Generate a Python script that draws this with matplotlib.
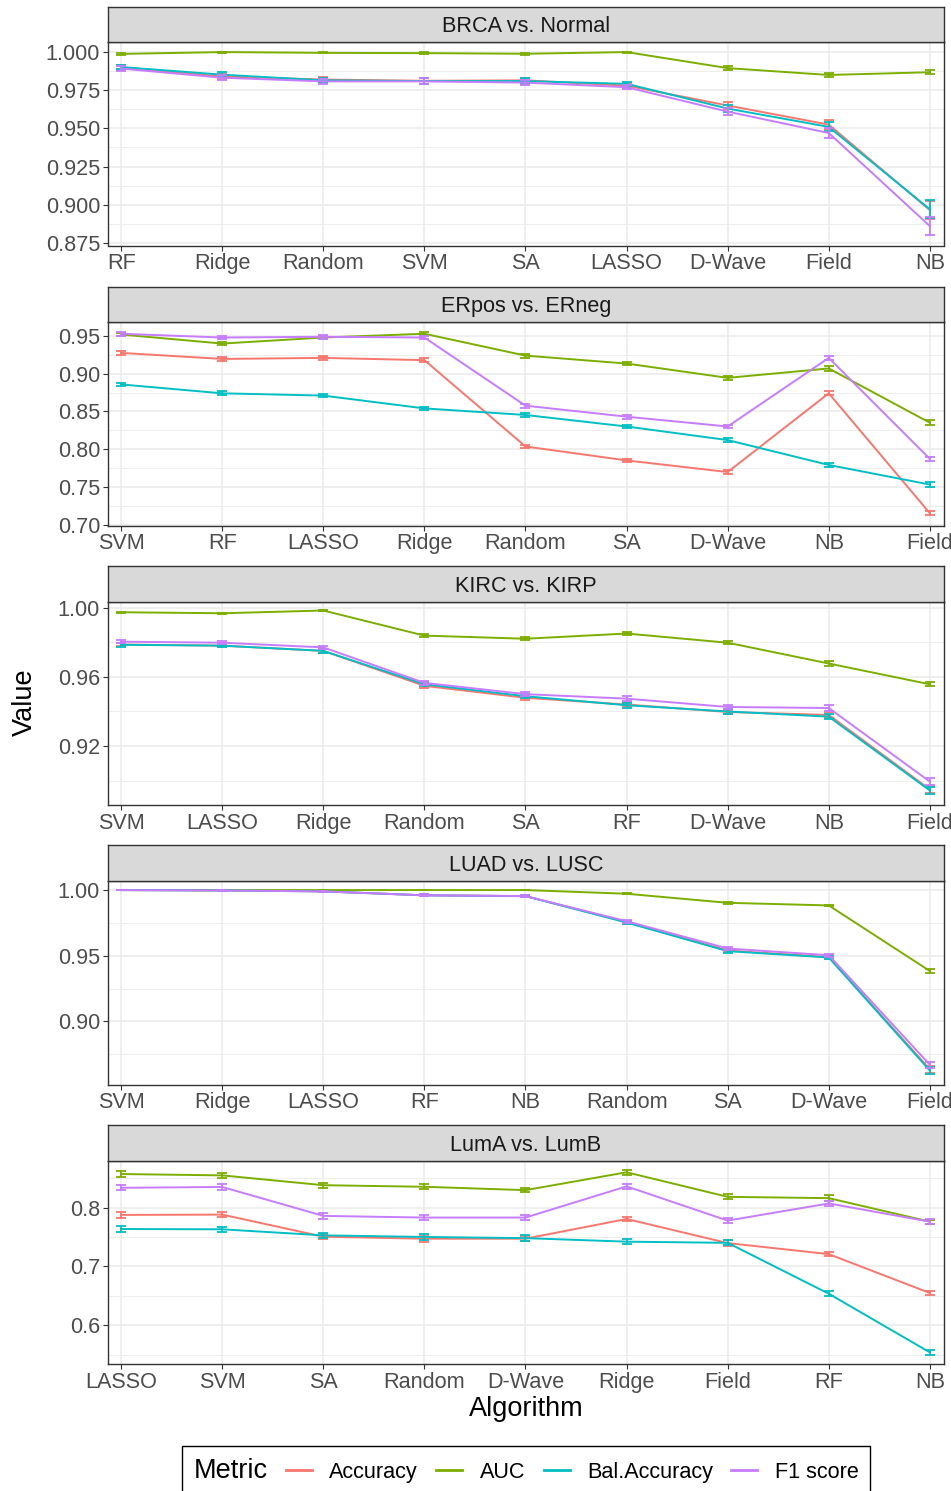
import matplotlib
matplotlib.use("Agg")
import matplotlib.pyplot as plt
from matplotlib.lines import Line2D
from matplotlib.ticker import FormatStrFormatter

plt.rcParams['font.family'] = ['Liberation Sans', 'DejaVu Sans']

metrics = ["Accuracy", "AUC", "Bal.Accuracy", "F1 score"]
colors = ["#F8766D", "#7CAE00", "#00BFC4", "#C77CFF"]

## BRCA vs. Normal
brca_algo = ["RF", "Ridge", "Random", "SVM", "SA", "LASSO", "D-Wave", "Field", "NB"]
brca_acc = [0.9900, 0.9840, 0.9820, 0.9812, 0.9815, 0.9780, 0.9650, 0.9525, 0.8965]
brca_auc = [0.9988, 1.0000, 0.9995, 0.9993, 0.9989, 1.0000, 0.9895, 0.9850, 0.9868]
brca_bal = [0.9902, 0.9852, 0.9815, 0.9810, 0.9810, 0.9792, 0.9630, 0.9510, 0.8970]
brca_f1 = [0.9892, 0.9832, 0.9808, 0.9808, 0.9800, 0.9770, 0.9610, 0.9470, 0.8860]
brca_err = [0.0015, 0.0015, 0.0018, 0.0020, 0.0018, 0.0015, 0.0025, 0.0030, 0.0060]
brca_auc_err = [0.0006, 0.0003, 0.0004, 0.0005, 0.0006, 0.0003, 0.0014, 0.0016, 0.0012]

## ERpos vs. ERneg
er_algo = ["SVM", "RF", "LASSO", "Ridge", "Random", "SA", "D-Wave", "NB", "Field"]
er_acc = [0.9276, 0.9196, 0.9210, 0.9180, 0.8035, 0.7850, 0.7696, 0.8740, 0.7150]
er_auc = [0.9520, 0.9400, 0.9480, 0.9530, 0.9240, 0.9135, 0.8945, 0.9070, 0.8350]
er_bal = [0.8858, 0.8740, 0.8710, 0.8540, 0.8453, 0.8300, 0.8120, 0.7790, 0.7530]
er_f1 = [0.9530, 0.9480, 0.9490, 0.9480, 0.8576, 0.8430, 0.8300, 0.9210, 0.7870]
er_err = [0.0025, 0.0025, 0.0025, 0.0022, 0.0025, 0.0025, 0.0025, 0.0025, 0.0030]
er_auc_err = [0.0022, 0.0025, 0.0022, 0.0022, 0.0025, 0.0025, 0.0030, 0.0028, 0.0035]

## KIRC vs. KIRP
kirc_algo = ["SVM", "LASSO", "Ridge", "Random", "SA", "RF", "D-Wave", "NB", "Field"]
kirc_acc = [0.9787, 0.9780, 0.9750, 0.9548, 0.9479, 0.9440, 0.9397, 0.9380, 0.8950]
kirc_auc = [0.9973, 0.9967, 0.9983, 0.9838, 0.9820, 0.9850, 0.9797, 0.9677, 0.9557]
kirc_bal = [0.9785, 0.9780, 0.9750, 0.9557, 0.9488, 0.9436, 0.9400, 0.9370, 0.8944]
kirc_f1 = [0.9803, 0.9797, 0.9770, 0.9565, 0.9500, 0.9474, 0.9426, 0.9420, 0.8995]
kirc_err = [0.0010, 0.0010, 0.0010, 0.0012, 0.0012, 0.0015, 0.0012, 0.0015, 0.0020]
kirc_auc_err = [0.0004, 0.0004, 0.0003, 0.0008, 0.0008, 0.0008, 0.0008, 0.0012, 0.0012]

## LUAD vs. LUSC
luad_algo = ["SVM", "Ridge", "LASSO", "RF", "NB", "Random", "SA", "D-Wave", "Field"]
luad_acc = [1.0000, 0.9997, 0.9990, 0.9960, 0.9954, 0.9756, 0.9540, 0.9490, 0.8636]
luad_auc = [1.0000, 1.0000, 1.0000, 1.0000, 1.0000, 0.9972, 0.9903, 0.9883, 0.9384]
luad_bal = [1.0000, 0.9997, 0.9990, 0.9960, 0.9954, 0.9753, 0.9535, 0.9487, 0.8626]
luad_f1 = [1.0000, 0.9997, 0.9990, 0.9960, 0.9954, 0.9763, 0.9555, 0.9504, 0.8670]
luad_err = [0.0000, 0.0002, 0.0004, 0.0008, 0.0008, 0.0012, 0.0012, 0.0012, 0.0025]
luad_auc_err = [0.0000, 0.0000, 0.0001, 0.0001, 0.0001, 0.0004, 0.0006, 0.0006, 0.0015]

## LumA vs. LumB
lum_algo = ["LASSO", "SVM", "SA", "Random", "D-Wave", "Ridge", "Field", "RF", "NB"]
lum_acc = [0.7875, 0.7880, 0.7504, 0.7470, 0.7470, 0.7806, 0.7396, 0.7208, 0.6547]
lum_auc = [0.8570, 0.8547, 0.8380, 0.8353, 0.8296, 0.8600, 0.8182, 0.8160, 0.7760]
lum_bal = [0.7635, 0.7630, 0.7527, 0.7500, 0.7480, 0.7420, 0.7400, 0.6535, 0.5538]
lum_f1 = [0.8336, 0.8350, 0.7858, 0.7830, 0.7830, 0.8360, 0.7778, 0.8070, 0.7760]
lum_err = [0.0045, 0.0045, 0.0045, 0.0050, 0.0045, 0.0040, 0.0045, 0.0040, 0.0040]
lum_auc_err = [0.0045, 0.0045, 0.0045, 0.0045, 0.0040, 0.0040, 0.0045, 0.0045, 0.0035]

panels = [
    ("BRCA vs. Normal", brca_algo, [brca_acc, brca_auc, brca_bal, brca_f1], brca_err, brca_auc_err,
     (0.8733, 1.0066), [0.875, 0.900, 0.925, 0.950, 0.975, 1.000], [0.8875, 0.9125, 0.9375, 0.9625, 0.9875], "%.3f"),
    ("ERpos vs. ERneg", er_algo, [er_acc, er_auc, er_bal, er_f1], er_err, er_auc_err,
     (0.6987, 0.9686), [0.70, 0.75, 0.80, 0.85, 0.90, 0.95], [0.725, 0.775, 0.825, 0.875, 0.925], "%.2f"),
    ("KIRC vs. KIRP", kirc_algo, [kirc_acc, kirc_auc, kirc_bal, kirc_f1], kirc_err, kirc_auc_err,
     (0.886, 1.0035), [0.92, 0.96, 1.00], [0.90, 0.94, 0.98], "%.2f"),
    ("LUAD vs. LUSC", luad_algo, [luad_acc, luad_auc, luad_bal, luad_f1], luad_err, luad_auc_err,
     (0.852, 1.0069), [0.90, 0.95, 1.00], [0.875, 0.925, 0.975], "%.2f"),
    ("LumA vs. LumB", lum_algo, [lum_acc, lum_auc, lum_bal, lum_f1], lum_err, lum_auc_err,
     (0.534, 0.880), [0.6, 0.7, 0.8], [0.55, 0.65, 0.75, 0.85], "%.1f"),
]

W, H = 951, 1491
fig = plt.figure(figsize=(W / 100, H / 100), dpi=100)

tops = [42, 322, 601.5, 881, 1160.5]
ph = 203.5
sh = 35.5
left, width = 108, 836
txt = 15.6

for top, (title, algos, vals, err, auc_err, ylim, major, minor, fmt) in zip(tops, panels):
    ax = fig.add_axes([left / W, 1 - (top + ph) / H, width / W, ph / H])
    xs = list(range(len(algos)))
    for k in range(4):
        e = auc_err if k == 1 else err
        ax.plot(xs, vals[k], color=colors[k], lw=1.4, zorder=3 + k)
        ax.errorbar(xs, vals[k], yerr=e, color=colors[k], fmt='none', elinewidth=1.3,
                    capsize=3.6, capthick=1.3, zorder=3 + k)
    ax.set_xlim(-0.13, 8.14)
    ax.set_ylim(*ylim)
    ax.set_xticks(xs)
    ax.set_xticklabels(algos)
    ax.set_yticks(major)
    ax.set_yticks(minor, minor=True)
    ax.yaxis.set_major_formatter(FormatStrFormatter(fmt))
    ax.grid(True, which='major', color='#EBEBEB', lw=1.1, zorder=0)
    ax.grid(True, which='minor', axis='y', color='#EBEBEB', lw=0.6, zorder=0)
    ax.set_axisbelow(True)
    ax.tick_params(axis='both', which='major', labelsize=txt, labelcolor='#4D4D4D',
                   color='#333333', length=3.5, width=0.8, pad=2.2)
    ax.tick_params(axis='y', which='minor', length=0)
    for s in ax.spines.values():
        s.set_color('#333333')
        s.set_linewidth(1.0)

    st = fig.add_axes([left / W, 1 - top / H, width / W, sh / H])
    st.set_facecolor('#D9D9D9')
    st.set_xticks([])
    st.set_yticks([])
    for s in st.spines.values():
        s.set_color('#333333')
        s.set_linewidth(1.0)
    st.text(0.5, 0.5, title, ha='center', va='center_baseline', fontsize=txt, color='#1A1A1A',
            transform=st.transAxes)

fig.text(25 / W, 1 - 702 / H, "Value", rotation=90, ha='center', va='center', fontsize=19.5)
fig.text(526 / W, 1 - 1409 / H, "Algorithm", ha='center', va='center', fontsize=19.5)

handles = [Line2D([], [], color=c, lw=2.0) for c in colors]
leg = fig.legend(handles, metrics, title="Metric", ncol=4, loc='upper center',
                 bbox_to_anchor=(526 / W, 1 - 1435 / H), fontsize=txt, title_fontsize=19.5,
                 frameon=True, fancybox=False, edgecolor='black', framealpha=1,
                 handlelength=1.2, handletextpad=0.8, columnspacing=0.85, borderpad=0.55)
leg.get_frame().set_linewidth(1.0)
## move the title to the left of the entries
leg._legend_box._children = [leg._legend_handle_box]
leg._legend_handle_box._children.insert(0, leg._legend_title_box)

fig.savefig("out.png", dpi=100)
